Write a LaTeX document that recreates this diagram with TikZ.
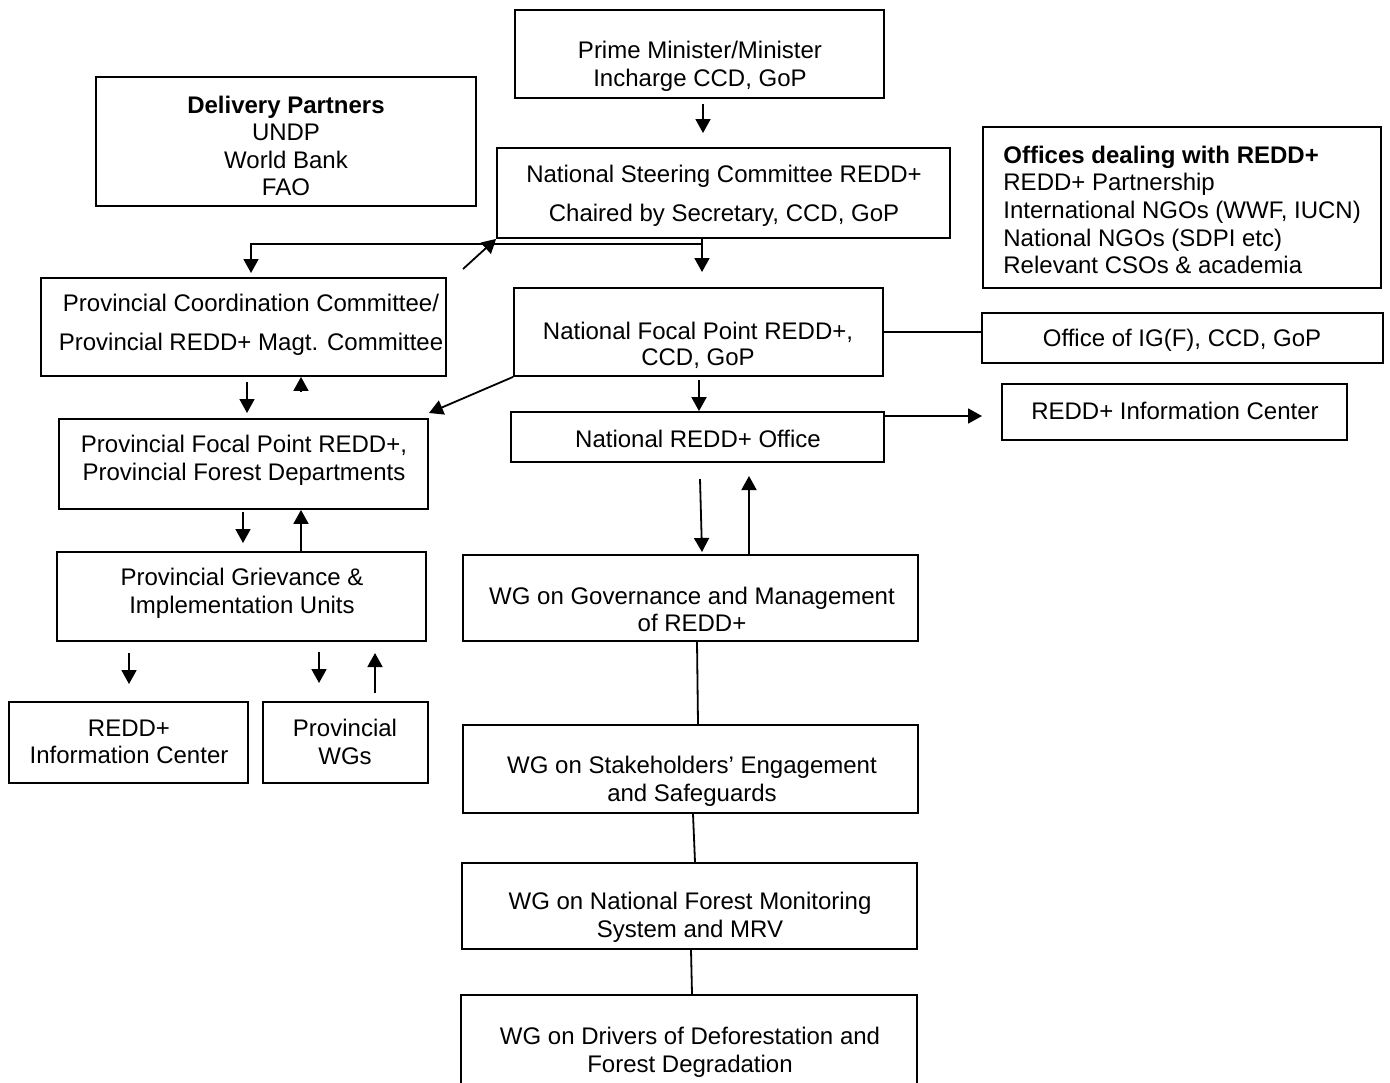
\documentclass[tikz,border=0pt]{standalone}
\usepackage{fontspec}
\setmainfont{Liberation Sans}
\usetikzlibrary{arrows.meta}
\begin{document}
\begin{tikzpicture}[x=0.5pt,y=-0.5pt,
  box/.style={draw,line width=0.9pt,inner sep=0pt,rectangle},
  txt/.style={inner sep=0pt,align=center,font=\fontsize{12}{13.8}\selectfont,yshift=-1pt},
  conn/.style={line width=0.9pt},
  arr/.style={line width=0.9pt,-{Triangle[length=7pt,width=7.5pt]}}]
\useasboundingbox (0,0) rectangle (1390,1082);
\clip (0,0) rectangle (1390,1082);
% boxes
\node[box,minimum width=184.5pt,minimum height=44pt] (pm) at (699.5,54) {};
\node[box,minimum width=190pt,minimum height=64.5pt] (dp) at (286,141.5) {};
\node[box,minimum width=226.5pt,minimum height=45pt] (nsc) at (723.5,193) {};
\node[box,minimum width=199pt,minimum height=80.5pt] (off) at (1182,207.5) {};
\node[box,minimum width=202.5pt,minimum height=49pt] (pcc) at (243.5,327) {};
\node[box,minimum width=184.5pt,minimum height=44pt] (nfp) at (698.5,332) {};
\node[box,minimum width=200.5pt,minimum height=25pt] (igf) at (1182.5,338) {};
\node[box,minimum width=184.5pt,minimum height=45pt] (pfp) at (243.5,464) {};
\node[box,minimum width=186.5pt,minimum height=25pt] (nro) at (697.5,437) {};
\node[box,minimum width=172.5pt,minimum height=28pt] (ric) at (1174.5,412) {};
\node[box,minimum width=184.5pt,minimum height=44.5pt] (pgi) at (241.5,596.5) {};
\node[box,minimum width=227.5pt,minimum height=43pt] (wgg) at (690.5,598) {};
\node[box,minimum width=119.5pt,minimum height=40.5pt] (ricl) at (128.5,742.5) {};
\node[box,minimum width=82.5pt,minimum height=40.5pt] (pwg) at (345.5,742.5) {};
\node[box,minimum width=227.5pt,minimum height=44pt] (wgs) at (690.5,769) {};
\node[box,minimum width=227.5pt,minimum height=43pt] (wgn) at (689.5,906) {};
\node[box,minimum width=228pt,minimum height=50pt] (wgd) at (689,1045) {};
% texts
\node[txt] (tpm) at (700,64) {Prime Minister/Minister\\Incharge CCD, GoP};
\node[txt] (tdp) at (286,144) {\textbf{Delivery Partners}\\UNDP\\World Bank\\FAO};
\node[txt] (tnsc) at (724,194) {National Steering Committee REDD+\\[5.7pt]Chaired by Secretary, CCD, GoP};
\node[txt,align=left,anchor=west] (toff) at (1003,208) {\textbf{Offices dealing with REDD+}\\REDD+ Partnership\\International NGOs (WWF, IUCN)\\National NGOs (SDPI etc)\\Relevant CSOs \& academia};
\node[txt] (tpcc) at (251,323) {Provincial Coordination Committee/\\[5.7pt]Provincial REDD+ Magt. Committee};
\node[txt] (tnfp) at (698,343) {National Focal Point REDD+,\\[-0.8pt]CCD, GoP};
\node[txt] (tigf) at (1182,338) {Office of IG(F), CCD, GoP};
\node[txt] (tpfp) at (244,458) {Provincial Focal Point REDD+,\\Provincial Forest Departments};
\node[txt] (tnro) at (698,437) {National REDD+ Office};
\node[txt] (tric) at (1175,409) {REDD+ Information Center};
\node[txt] (tpgi) at (242,591.5) {Provincial Grievance \&\\Implementation Units};
\node[txt] (twgg) at (692,607.5) {WG on Governance and Management\\of REDD+};
\node[txt] (tricl) at (129,740) {REDD+\\Information Center};
\node[txt] (tpwg) at (345,740) {Provincial\\WGs};
\node[txt] (twgs) at (692,779.5) {WG on Stakeholders' Engagement\\and Safeguards};
\node[txt] (twgn) at (690,915.5) {WG on National Forest Monitoring\\System and MRV};
\node[txt] (twgd) at (690,1050) {WG on Drivers of Deforestation and\\Forest Degradation};
% coordinates
\coordinate (a1s) at (703,104);
\coordinate (a1e) at (703,133);
\coordinate (j1) at (702,244);
\coordinate (j2) at (251,244);
\coordinate (j2e) at (251,273);
\coordinate (j1e) at (702,272);
\coordinate (d1) at (463,269);
\coordinate (b1s) at (247,382);
\coordinate (b1e) at (247,413);
\coordinate (b2s) at (301,392);
\coordinate (c1) at (429,413);
\coordinate (n1s) at (699,380);
\coordinate (r1) at (982,416);
\coordinate (w1s) at (700,479);
\coordinate (w1e) at (702,552);
\coordinate (w2e) at (749,476);
\coordinate (p1s) at (243,512);
\coordinate (p1e) at (243,543);
\coordinate (p2) at (301,512);
\coordinate (g1s) at (129,653);
\coordinate (g1e) at (129,684);
\coordinate (g2s) at (319,652);
\coordinate (g2e) at (319,683);
\coordinate (g3s) at (375,693);
\coordinate (g3e) at (375,653);
\coordinate (v1) at (697,0);
\coordinate (v2) at (698,0);
\coordinate (v3) at (693,0);
\coordinate (v4) at (695,0);
\coordinate (v5) at (691,0);
\coordinate (v6) at (692,0);
% connectors
\draw[arr] (a1s) -- (a1e);
\draw[arr] (j1 |- nsc.south) -- (j1e);
\draw[arr] (j1) -- (j2) -- (j2e);
\draw[arr] (d1) -- (nsc.south west);
\draw[arr] (b1s) -- (b1e);
\draw[arr] (b2s) -- (b2s |- pcc.south);
\draw[arr] (nfp.south west) -- (c1);
\draw[conn] (nfp.east) -- (nfp.east -| igf.west);
\draw[arr] (n1s) -- (n1s |- nro.north);
\draw[arr] (nro.east |- r1) -- (r1);
\draw[arr] (w1s) -- (w1e);
\draw[arr] (w2e |- wgg.north) -- (w2e);
\draw[arr] (p1s) -- (p1e);
\draw[arr] (p2 |- pgi.north) -- (p2 |- pfp.south);
\draw[arr] (g1s) -- (g1e);
\draw[arr] (g2s) -- (g2e);
\draw[arr] (g3s) -- (g3e);
\draw[conn] (v1 |- wgg.south) -- (v2 |- wgs.north);
\draw[conn] (v3 |- wgs.south) -- (v4 |- wgn.north);
\draw[conn] (v5 |- wgn.south) -- (v6 |- wgd.north);
\end{tikzpicture}
\end{document}
